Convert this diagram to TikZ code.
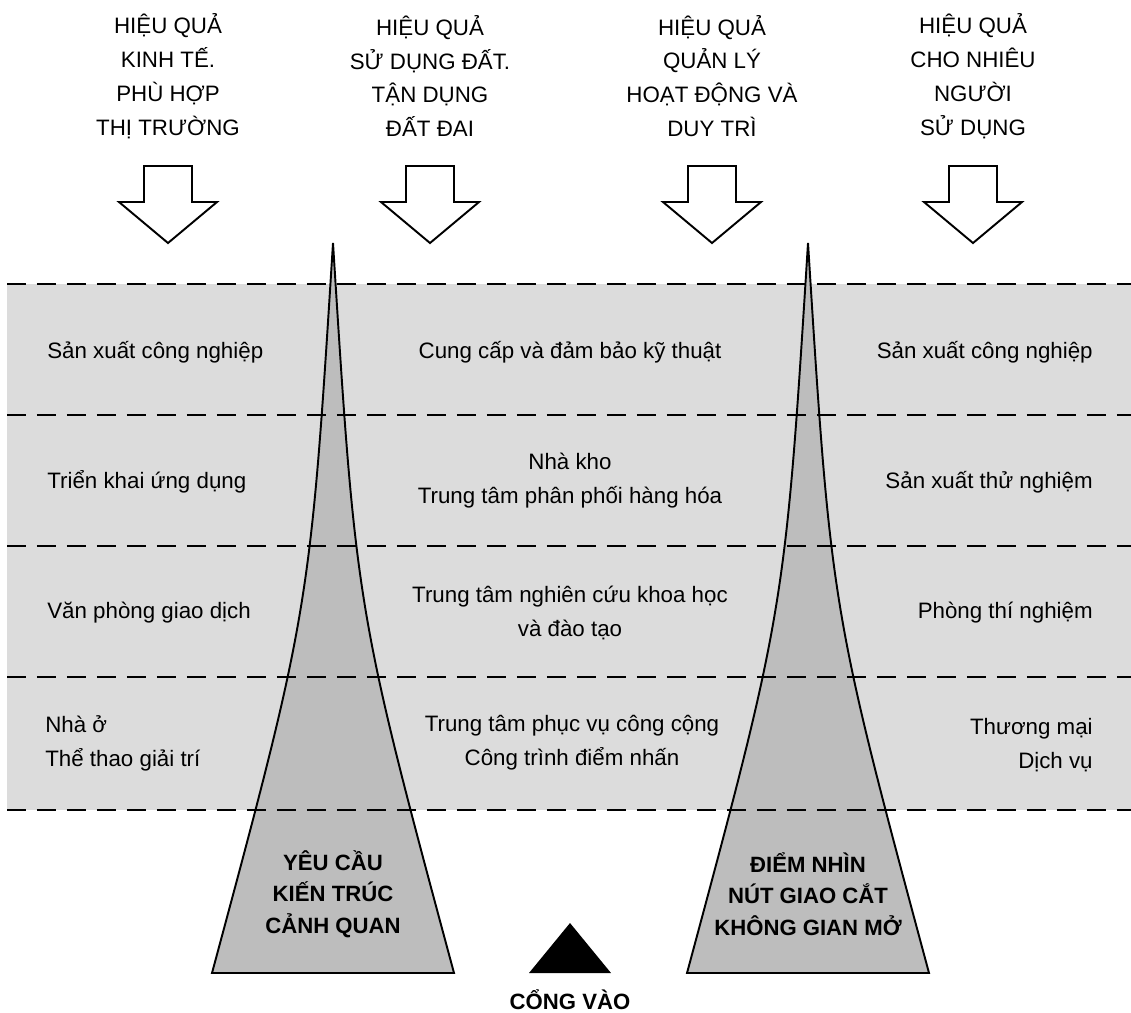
\documentclass[tikz,border=0pt]{standalone}
\usepackage{fontspec}
\setmainfont{Liberation Sans}
\usetikzlibrary{positioning}
\definecolor{bandgray}{RGB}{220,220,220}
\definecolor{spiregray}{RGB}{189,189,189}
\tikzstyle{sep} = [line width=1.4pt, dash pattern=on 0.38cm off 0.22cm]
\tikzstyle{spire} = [draw, fill=spiregray, line width=1.1pt, line join=miter]
\tikzstyle{blockarrow} = [draw, fill=white, line width=1.1pt, line join=miter]
\tikzstyle{head} = [align=center, inner sep=0pt,
    font=\fontsize{12.7pt}{19.3pt}\selectfont]
\tikzstyle{item} = [inner sep=0pt, font=\fontsize{12.7pt}{19.3pt}\selectfont]
\tikzstyle{spiretext} = [align=center, inner sep=0pt,
    font=\fontsize{12.6pt}{17.9pt}\selectfont\bfseries]

\begin{document}
\begin{tikzpicture}[x=0.02cm, y=-0.02cm]
  \useasboundingbox (0,0) rectangle (1131,1012);
  \fill[bandgray] (7,284) rectangle (1131,810);
  \draw[spire] (333,243) .. controls (356,609) .. (454,973) -- (212,973)
    .. controls (310,609) .. (333,243) -- cycle;
  \draw[spire] (808,243) .. controls (831,609) .. (929,973) -- (687,973)
    .. controls (785,609) .. (808,243) -- cycle;
  \foreach \y in {284,415,546,677,810}
    \draw[sep] (7,\y) -- (1131,\y);
  \foreach \x in {168,430,712,973}
    \draw[blockarrow] (\x-24,166) -- (\x+24,166) -- (\x+24,202) -- (\x+49,202)
      -- (\x,243) -- (\x-49,202) -- (\x-24,202) -- cycle;
  \node [head] (e1) at (168,76) {HIỆU QUẢ\\KINH TẾ.\\PHÙ HỢP\\THỊ TRƯỜNG};
  \node [head] (e2) at (430,76) {HIỆU QUẢ\\SỬ DỤNG ĐẤT.\\TẬN DỤNG\\ĐẤT ĐAI};
  \node [head] (e3) at (712,76) {HIỆU QUẢ\\QUẢN LÝ\\HOẠT ĐỘNG VÀ\\DUY TRÌ};
  \node [head] (e4) at (973,76) {HIỆU QUẢ\\CHO NHIÊU\\NGƯỜI\\SỬ DỤNG};
  \node [item, anchor=west] (l1) at (47,352) {Sản xuất công nghiệp};
  \node [item, anchor=west] (l2) at (47,482) {Triển khai ứng dụng};
  \node [item, anchor=west] (l3) at (47,613) {Văn phòng giao dịch};
  \node [item, anchor=west, align=left] (l4) at (45,743) {Nhà ở\\Thể thao giải trí};
  \node [item, align=center] (m1) at (570,352) {Cung cấp và đảm bảo kỹ thuật};
  \node [item, align=center] (m2) at (570,481) {Nhà kho\\Trung tâm phân phối hàng hóa};
  \node [item, align=center] (m3) at (570,613) {Trung tâm nghiên cứu khoa học\\và đào tạo};
  \node [item, align=center] (m4) at (572,743) {Trung tâm phục vụ công cộng\\Công trình điểm nhấn};
  \node [item, anchor=east] (r1) at (1093,352) {Sản xuất công nghiệp};
  \node [item, anchor=east] (r2) at (1093,482) {Sản xuất thử nghiệm};
  \node [item, anchor=east] (r3) at (1093,613) {Phòng thí nghiệm};
  \node [item, anchor=east, align=right] (r4) at (1093,745) {Thương mại\\Dịch vụ};
  \node [spiretext] (s1) at (333,894) {YÊU CẦU\\KIẾN TRÚC\\CẢNH QUAN};
  \node [spiretext] (s2) at (808,894) {ĐIỂM NHÌN\\NÚT GIAO CẮT\\KHÔNG GIAN MỞ};
  \fill (570,923) -- (611,973) -- (529,973) -- cycle;
  \node [spiretext] (gate) at (570,1000) {CỔNG VÀO};
\end{tikzpicture}
\end{document}
